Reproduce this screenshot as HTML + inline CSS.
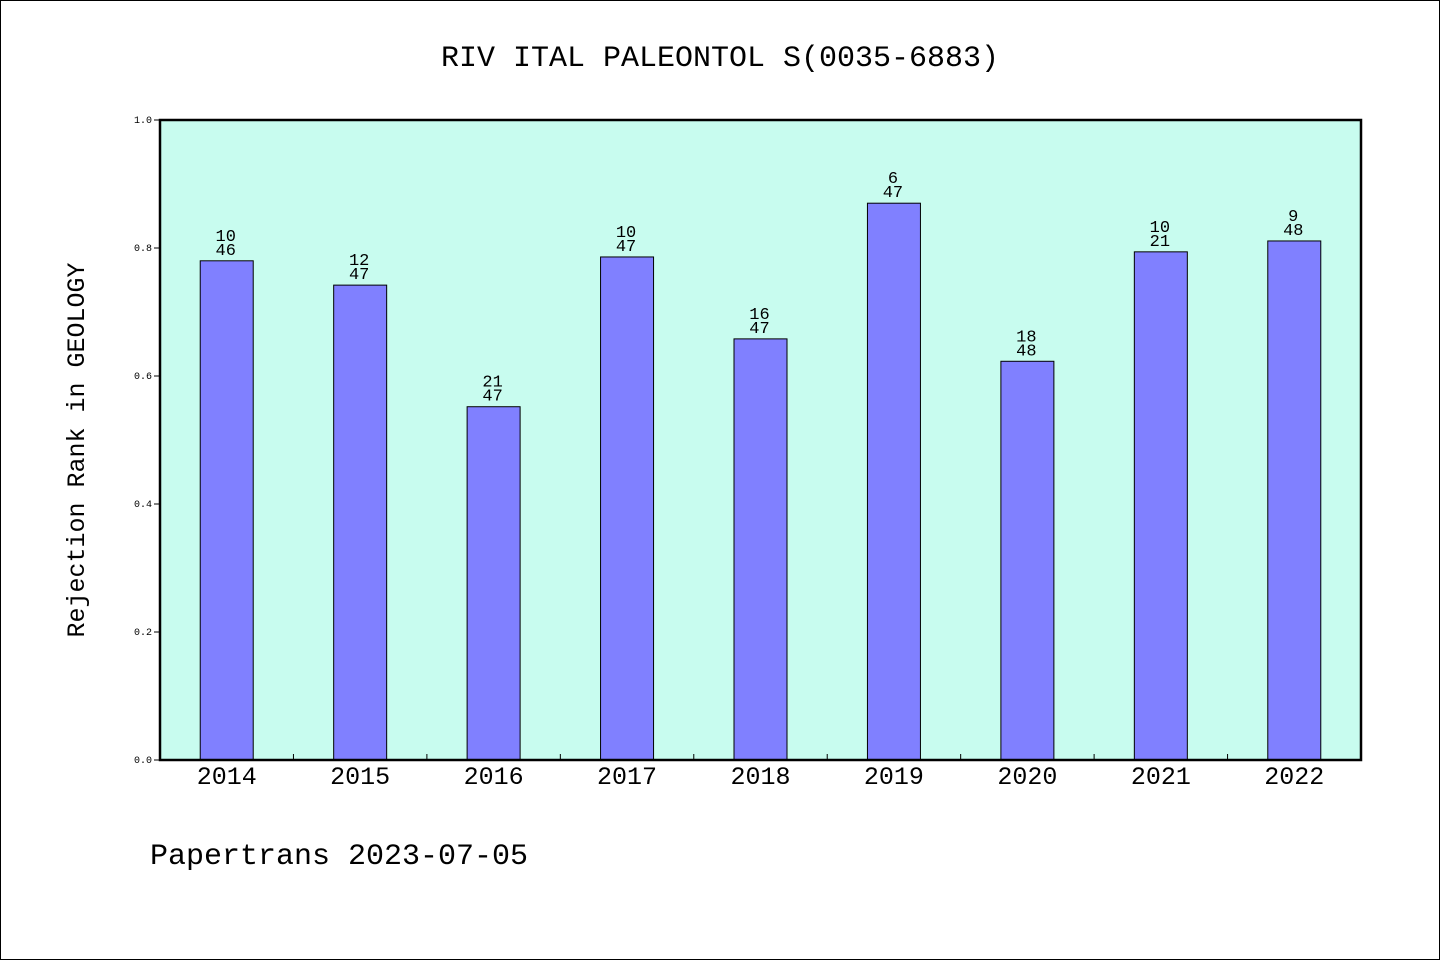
<!DOCTYPE html>
<html><head><meta charset="utf-8"><style>
body{margin:0;background:#fff}
svg{display:block}
text{font-family:"Liberation Mono","DejaVu Sans Mono",monospace;fill:#000}
</style></head><body>
<svg id="chart" width="1440" height="960">
<rect x="0.5" y="0.5" width="1439" height="959" fill="#fff" stroke="#000"/>
<text x="720" y="66" font-size="30" text-anchor="middle">RIV ITAL PALEONTOL S(0035-6883)</text>
<rect x="160" y="120" width="1201" height="640" fill="#c8fcef"/>
<g id="marks"></g>
<rect x="160" y="120" width="1201" height="640" fill="none" stroke="#000" stroke-width="2.5"/>
<text transform="translate(84,450) rotate(-90)" font-size="25" text-anchor="middle">Rejection Rank in GEOLOGY</text>
<text x="150" y="864" font-size="30">Papertrans 2023-07-05</text>
</svg>
<script>
const categories=["2014","2015","2016","2017","2018","2019","2020","2021","2022"];
const values=[0.780,0.742,0.552,0.786,0.658,0.870,0.623,0.794,0.811];
const ranks=["10","12","21","10","16","6","18","10","9"];
const totals=["46","47","47","47","47","47","48","21","48"];
const yTicks=[0,0.2,0.4,0.6,0.8,1.0];
const NS="http://www.w3.org/2000/svg";
const L=160,R=1361,T=120,B=760;
const bw=(R-L)/categories.length;
const y=v=>B-v*(B-T);
const x=i=>L+bw*(i+0.5);
const g=document.getElementById('marks');
function mk(t,a){const e=document.createElementNS(NS,t);for(const k in a)e.setAttribute(k,a[k]);g.appendChild(e);return e;}
yTicks.forEach(v=>{
 const l=mk('line',{x1:L-6,x2:L,y1:y(v),y2:y(v),stroke:'#000'});
 
 
 const t=mk('text',{x:L-8,y:y(v)+3,'font-size':10,'text-anchor':'end'});t.textContent=v.toFixed(1);
 
 
});
for(let i=1;i<categories.length;i++){
 const l=mk('line',{x1:L+bw*i,x2:L+bw*i,y1:B,y2:B-6,stroke:'#000'});
 
 
}
categories.forEach((c,i)=>{
 const r=mk('rect',{x:x(i)-26.5,y:y(values[i]),width:53,height:B-y(values[i]),fill:'#8080ff',stroke:'#000','stroke-width':1});
 
 
 const t1=mk('text',{x:x(i)-1,y:y(values[i])-20,'font-size':17,'text-anchor':'middle'});t1.textContent=ranks[i];
 
 
 const t2=mk('text',{x:x(i)-1,y:y(values[i])-6,'font-size':17,'text-anchor':'middle'});t2.textContent=totals[i];
 
 
 const xl=mk('text',{x:x(i),y:784,'font-size':25,'text-anchor':'middle'});xl.textContent=c;
 
 
});
</script>
</body></html>
